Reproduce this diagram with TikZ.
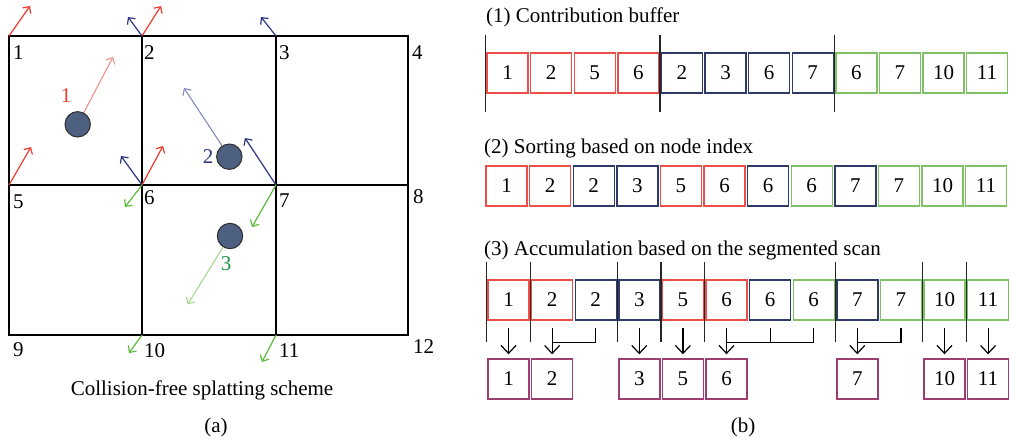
\documentclass[tikz,border=0pt]{standalone}
\usepackage{fontspec}
\setmainfont{Liberation Serif}
\usetikzlibrary{arrows.meta,calc}
\definecolor{vred}{HTML}{EE3B30}
\definecolor{lred}{HTML}{F29088}
\definecolor{vnavy}{HTML}{2D3580}
\definecolor{lnavy}{HTML}{8388B8}
\definecolor{vgreen}{HTML}{5DBA3C}
\definecolor{lgreen}{HTML}{A3D98C}
\definecolor{tgreen}{HTML}{1E9444}
\definecolor{bred}{HTML}{EC4F47}
\definecolor{bnavy}{HTML}{2F3A66}
\definecolor{bgreen}{HTML}{7FC266}
\definecolor{bpurple}{HTML}{9E3D70}
\definecolor{pfill}{HTML}{4E6080}
\definecolor{pdraw}{HTML}{2E2E2E}
\tikzset{
  cell/.style={draw, line width=1.4pt, minimum width=41pt, minimum height=40pt, inner sep=0pt},
  lab/.style={anchor=north west, inner sep=0pt},
  particle/.style={circle, fill=pfill, draw=pdraw, line width=1pt, minimum size=25.4pt, inner sep=0pt},
  varrow/.style={line width=1.2pt, -{Straight Barb[length=5pt,width=10pt]}},
  parrow/.style={line width=1.1pt, -{Straight Barb[length=5pt,width=10pt]}},
  sepline/.style={line width=1.3pt, black!85},
  darrow/.style={line width=1.2pt, -{Straight Barb[length=8pt,width=15pt]}, shorten <=7pt, shorten >=4pt},
  bline/.style={line width=1.2pt},
}
\begin{document}
\begin{tikzpicture}[x=1pt,y=-1pt,font=\fontsize{21}{25}\selectfont]
\useasboundingbox (0,0) rectangle (1010,442);
% ---------- (a) grid ----------
\foreach \i/\x/\y in {1/9/36,2/142/36,3/276/36,4/408/36,5/9/185,6/142/185,7/276/185,8/408/185,9/9/335,10/142/335,11/276/335,12/408/335}
  \coordinate (n\i) at (\x,\y);
\draw[line width=1.6pt] (n1) rectangle (n12);
\draw[line width=2.4pt] (n1) -- (n4);
\draw[line width=2.4pt] (n2) -- (n10);
\draw[line width=2.4pt] (n3) -- (n11);
\draw[line width=2.4pt] (n5) -- (n8);
% node labels
\node[lab] (l1) at (13,45) {1};
\node[lab] (l2) at (144,45) {2};
\node[lab] (l3) at (279,45) {3};
\node[lab] (l4) at (412,45) {4};
\node[lab] (l5) at (13,195) {5};
\node[lab] (l6) at (144,190) {6};
\node[lab] (l7) at (279,194) {7};
\node[lab] (l8) at (413,189) {8};
\node[lab] (l9) at (13,342) {9};
\node[lab] (l10) at (144,343) {10};
\node[lab] (l11) at (279,343) {11};
\node[lab] (l12) at (413,339) {12};
% particles
\node[particle] (p1) at (77.7,124.3) {};
\node[particle] (p2) at (229.3,156.7) {};
\node[particle] (p3) at (230,236) {};
\coordinate (e1) at (113,57);
\coordinate (e2) at (184,88);
\coordinate (e3) at (187.7,304.3);
\draw[parrow, lred] (p1) -- (e1);
\draw[parrow, lnavy] (p2) -- (e2);
\draw[parrow, lgreen] (p3) -- (e3);
\node[text=vred] (q1) at (66,96) {1};
\node[text=vnavy] (q2) at (208,157) {2};
\node[text=tgreen] (q3) at (226,264) {3};
% node arrows
\draw[varrow, vred] (n1) -- ++(21,-30);
\draw[varrow, vred] (n2) -- ++(19,-30);
\draw[varrow, vred] (n5) -- ++(22,-38);
\draw[varrow, vred] (n6) -- ++(21,-39);
\draw[varrow, vnavy] (n2) -- ++(-14,-19);
\draw[varrow, vnavy] (n3) -- ++(-15,-19);
\draw[varrow, vnavy] (n6) -- ++(-21,-29);
\draw[varrow, vnavy] (n7) -- ++(-31,-47);
\draw[varrow, vgreen] (n6) -- ++(-17,22);
\draw[varrow, vgreen] (n7) -- ++(-24,42);
\draw[varrow, vgreen] (n10) -- ++(-13,18);
\draw[varrow, vgreen] (n11) -- ++(-14,27);
\node (cap) at (202,390) {Collision-free splatting scheme};
\node (sa) at (216,427) {(a)};
% ---------- (b) ----------
\node[anchor=west, inner sep=0pt] (t1) at (486,17) {(1) Contribution buffer};
\node[anchor=west, inner sep=0pt] (t2) at (484,148) {(2) Sorting based on node index};
\node[anchor=west, inner sep=0pt] (t3) at (484,250) {(3) Accumulation based on the segmented scan};
% row 1
\foreach \v/\c [count=\i] in {1/bred,2/bred,5/bred,6/bred,2/bnavy,3/bnavy,6/bnavy,7/bnavy,6/bgreen,7/bgreen,10/bgreen,11/bgreen}
  \node[cell, draw=\c] (a\i) at ({507.5+43.6*(\i-1)},73) {\v};
\foreach \k in {1,5,9}
  \draw[sepline] ({487+43.6*(\k-1)-1.3},35) -- ++(0,77);
% row 2
\foreach \v/\c [count=\i] in {1/bred,2/bred,2/bnavy,3/bnavy,5/bred,6/bred,6/bnavy,6/bgreen,7/bnavy,7/bgreen,10/bgreen,11/bgreen}
  \node[cell, draw=\c] (b\i) at ({506.5+43.6*(\i-1)},186) {\v};
% row 3
\foreach \v/\c [count=\i] in {1/bred,2/bred,2/bnavy,3/bnavy,5/bred,6/bred,6/bnavy,6/bgreen,7/bnavy,7/bgreen,10/bgreen,11/bgreen}
  \node[cell, draw=\c] (c\i) at ({508.5+43.6*(\i-1)},300) {\v};
\foreach \k in {1,2,4,5,6,9,11,12}
  \draw[sepline] ({488+43.6*(\k-1)-1.3},262) -- ++(0,80);
% results
\foreach \k/\v in {1/1,2/2,4/3,5/5,6/6,9/7,11/10,12/11}
  \node[cell, draw=bpurple] (o\k) at ({508.5+43.6*(\k-1)},379) {\v};
\foreach \k in {1,2,4,5,6,9,11,12}
  \draw[darrow] (c\k.south) -- (o\k.north);
\draw[bline] ([yshift=-7pt]c3.south) |- ([yshift=-22pt]c2.south);
\draw[bline] ([yshift=-7pt]c8.south) |- ([yshift=-22pt]c6.south);
\draw[bline] ([yshift=-7pt]c7.south) -- ([yshift=-22pt]c7.south);
\draw[bline] ([yshift=-7pt]c10.south) |- ([yshift=-22pt]c9.south);
\node (sb) at (743,427) {(b)};
\end{tikzpicture}
\end{document}
